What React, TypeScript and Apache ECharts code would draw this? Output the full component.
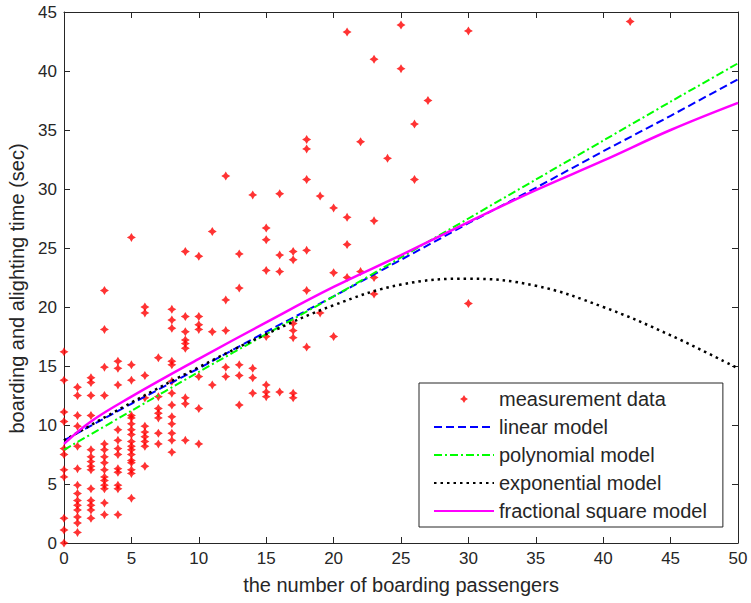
import React, { useEffect, useRef } from "react";
import * as echarts from "echarts";

// measurement data: [number of boarding passengers, boarding & alighting times (sec)]
const measured: [number, number[]][] = [
  [0, [16.2, 13.8, 11.1, 10.3, 8.0, 7.5, 6.2, 5.6, 2.1, 1.1, 0]],
  [1, [13.2, 12.5, 10.8, 9.9, 8.2, 6.3, 4.9, 4.2, 3.6, 3.2, 2.8, 2.2, 1.7, 0.9]],
  [2, [14.0, 13.6, 12.5, 10.8, 7.9, 7.3, 6.9, 6.5, 6.2, 4.6, 3.6, 3.2, 2.8, 2.1]],
  [3, [21.4, 18.1, 14.9, 12.5, 8.4, 7.9, 7.3, 6.8, 6.2, 5.6, 5.3, 4.9, 4.6, 3.4, 2.4]],
  [4, [15.4, 14.8, 13.4, 9.6, 8.7, 8.0, 7.5, 6.3, 6.0, 4.9, 4.6, 2.4]],
  [5, [25.9, 15.1, 13.8, 10.8, 10.6, 10.1, 9.6, 9.2, 8.6, 8.2, 7.9, 7.5, 7.0, 6.8, 6.2, 5.9, 3.8]],
  [6, [20.0, 19.5, 14.2, 12.3, 9.9, 9.4, 9.0, 8.6, 8.2, 6.5]],
  [7, [15.7, 12.4, 11.4, 11.0, 10.6, 9.3, 8.4]],
  [8, [19.8, 18.9, 18.2, 15.4, 15.1, 13.7, 12.7, 11.7, 10.7, 10.1, 9.3, 8.7, 7.7]],
  [9, [24.7, 19.2, 17.9, 17.2, 16.9, 16.5, 12.3, 11.8, 8.7]],
  [10, [24.3, 19.2, 18.5, 18.1, 14.1, 11.4, 8.4]],
  [11, [26.4, 17.9, 13.4]],
  [12, [31.1, 20.6, 18.0, 14.9, 14.1]],
  [13, [24.5, 21.6, 15.1, 14.2, 11.7]],
  [14, [29.5, 14.8, 14.0, 12.7]],
  [15, [26.7, 25.7, 23.1, 17.5, 13.4, 12.8, 12.4]],
  [16, [29.6, 24.4, 23.0, 12.8]],
  [17, [24.7, 24.0, 18.6, 18.0, 17.4, 12.7, 12.3]],
  [18, [34.2, 33.4, 30.8, 24.8, 21.4, 16.6]],
  [19, [29.4, 19.5]],
  [20, [28.4, 22.9, 17.5]],
  [21, [43.3, 27.6, 25.3, 22.5]],
  [22, [34.0, 23.0]],
  [23, [41.0, 27.3, 22.5, 21.1]],
  [24, [32.6]],
  [25, [43.9, 40.2]],
  [26, [35.5, 30.8]],
  [27, [37.5]],
  [30, [43.4, 20.3]],
  [42, [44.2]],
];

// model curves
const modelX = [0, 5, 10, 15, 20, 25, 30, 35, 40, 45, 50];
const linearY = [8.7, 11.8, 14.8, 17.9, 20.9, 24.0, 27.1, 30.1, 33.2, 36.2, 39.3];
const polyY = [7.9, 11.2, 14.5, 17.7, 20.9, 24.2, 27.5, 30.8, 34.1, 37.4, 40.65];
const expY = [8.7, 11.9, 14.9, 17.7, 20.15, 21.9, 22.4, 21.8, 20.0, 17.6, 14.8];
const fracX = [0, 2, 5, 10, 15, 20, 25, 30, 35, 40, 45, 50];
const fracY = [8.4, 10.3, 12.4, 15.6, 18.7, 21.7, 24.4, 27.2, 29.9, 32.4, 35.0, 37.3];

const xTicks = { min: 0, max: 50, interval: 5 };
const yTicks = { min: 0, max: 45, interval: 5 };

const seriesNames = [
  "measurement data",
  "linear model",
  "polynomial model",
  "exponential model",
  "fractional square model",
];

const FONT = "'Liberation Sans', Arial, Helvetica, sans-serif";
const AX = "#262626";
const MARK = "path://M4,0L5.5,2.5L8,4L5.5,5.5L4,8L2.5,5.5L0,4L2.5,2.5Z";

export default function App() {
  const ref = useRef<HTMLDivElement>(null);

  useEffect(() => {
    if (!ref.current) return;
    const chart = echarts.init(ref.current, null, { renderer: "svg" });

    const scatterData: [number, number][] = [];
    measured.forEach(([x, ys]) => ys.forEach((y) => scatterData.push([x, y])));
    const pairs = (xs: number[], ys: number[]) => xs.map((x, i) => [x, ys[i]]);

    const axisLine = { show: true, onZero: false, lineStyle: { color: AX, width: 1 } };
    const axisTick = { show: true, inside: true, length: 6, lineStyle: { color: AX, width: 1 } };

    chart.setOption({
      animation: false,
      backgroundColor: "#fff",
      textStyle: { fontFamily: FONT },
      grid: { left: 64, right: 13, top: 12, bottom: 60, containLabel: false, outerBoundsMode: "none" },
      xAxis: [
        {
          type: "value",
          ...xTicks,
          position: "bottom",
          axisLine,
          axisTick,
          splitLine: { show: false },
          axisLabel: { fontSize: 17, color: AX, margin: 7, fontFamily: FONT },
          name: "the number of boarding passengers",
          nameLocation: "middle",
          nameGap: 32,
          nameTextStyle: { fontSize: 20, color: AX, fontFamily: FONT },
        },
        {
          type: "value",
          ...xTicks,
          position: "top",
          axisLine,
          axisTick,
          splitLine: { show: false },
          axisLabel: { show: false },
        },
      ],
      yAxis: [
        {
          type: "value",
          ...yTicks,
          position: "left",
          axisLine,
          axisTick,
          splitLine: { show: false },
          axisLabel: { fontSize: 17, color: AX, margin: 7, fontFamily: FONT },
          name: "boarding and alighting time (sec)",
          nameLocation: "middle",
          nameGap: 37,
          nameTextStyle: { fontSize: 20, color: AX, fontFamily: FONT, padding: [0, 22, 0, 0] },
        },
        {
          type: "value",
          ...yTicks,
          position: "right",
          axisLine,
          axisTick,
          splitLine: { show: false },
          axisLabel: { show: false },
        },
      ],
      legend: {
        data: [
          { name: seriesNames[0] },
          { name: seriesNames[1], itemStyle: { opacity: 0 } },
          { name: seriesNames[2], itemStyle: { opacity: 0 } },
          { name: seriesNames[3], itemStyle: { opacity: 0 } },
          { name: seriesNames[4], itemStyle: { opacity: 0 } },
        ],
        orient: "vertical",
        left: 419,
        top: 383,
        padding: [6, 16, 6, 14],
        itemGap: 8,
        itemWidth: 60,
        itemHeight: 8,
        borderColor: AX,
        borderWidth: 1,
        backgroundColor: "#fff",
        textStyle: { fontSize: 20, color: AX, fontFamily: FONT },
        selectedMode: false,
      },
      series: [
        {
          name: seriesNames[0],
          type: "scatter",
          data: scatterData,
          symbol: MARK,
          symbolSize: 9,
          itemStyle: { color: "#ff0000" },
          silent: true,
        },
        {
          name: seriesNames[1],
          type: "line",
          data: pairs(modelX, linearY),
          symbol: "none",
          lineStyle: { color: "#0000ff", width: 2, type: [8, 4] },
          itemStyle: { color: "#0000ff" },
          silent: true,
        },
        {
          name: seriesNames[2],
          type: "line",
          data: pairs(modelX, polyY),
          symbol: "none",
          smooth: 0.3,
          lineStyle: { color: "#00ff00", width: 2, type: [8, 3, 2, 3] },
          itemStyle: { color: "#00ff00" },
          silent: true,
        },
        {
          name: seriesNames[3],
          type: "line",
          data: pairs(modelX, expY),
          symbol: "none",
          smooth: 0.4,
          lineStyle: { color: "#000000", width: 2.5, type: [2.5, 4] },
          itemStyle: { color: "#000000" },
          silent: true,
        },
        {
          name: seriesNames[4],
          type: "line",
          data: pairs(fracX, fracY),
          symbol: "none",
          smooth: 0.4,
          lineStyle: { color: "#ff00ff", width: 2.5, type: "solid" },
          itemStyle: { color: "#ff00ff" },
          silent: true,
        },
      ],
    });

    return () => chart.dispose();
  }, []);

  return (
    <div
      ref={ref}
      style={{ position: "absolute", left: 0, top: 0, width: 751, height: 603, background: "#fff" }}
    />
  );
}
